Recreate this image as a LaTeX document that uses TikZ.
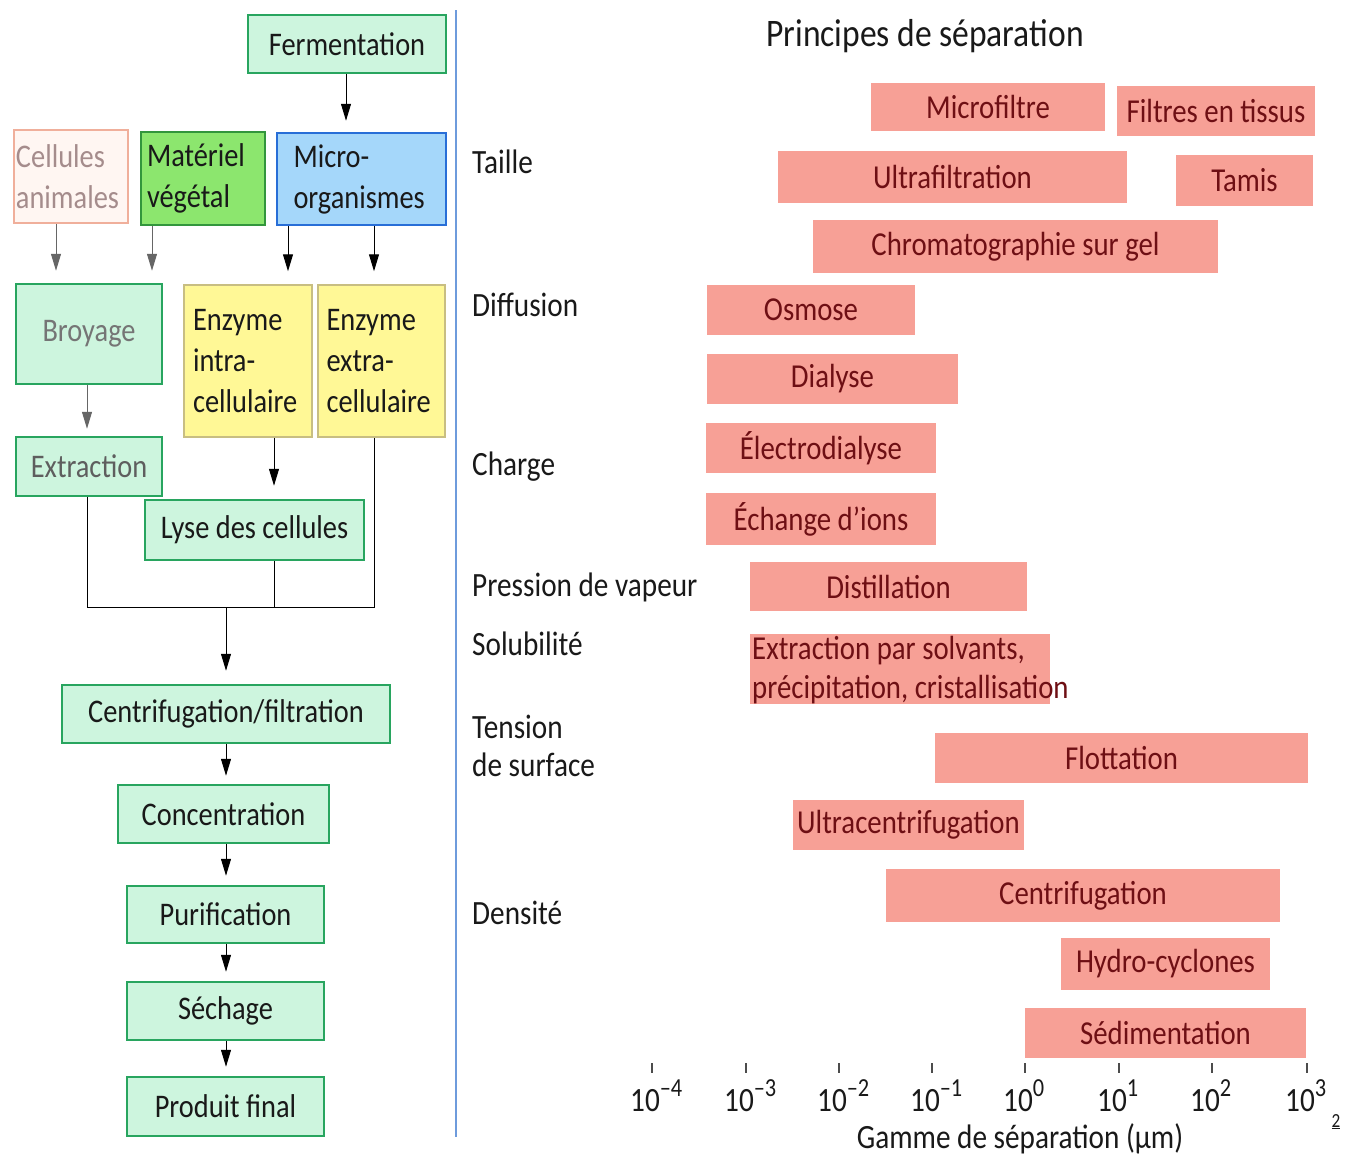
\documentclass[tikz,border=0pt]{standalone}
\usepackage{fontspec}
\setmainfont{Carlito}[FakeStretch=0.86]
\usetikzlibrary{arrows.meta}
\definecolor{gfill}{RGB}{205,245,222}
\definecolor{gdraw}{RGB}{40,165,95}
\definecolor{vfill}{RGB}{140,230,110}
\definecolor{vdraw}{RGB}{50,150,60}
\definecolor{bfill}{RGB}{165,215,250}
\definecolor{bdraw}{RGB}{40,110,215}
\definecolor{yfill}{RGB}{255,248,150}
\definecolor{ydraw}{RGB}{200,190,130}
\definecolor{pfill}{RGB}{255,246,242}
\definecolor{pdraw}{RGB}{240,175,155}
\definecolor{ptext}{RGB}{165,140,140}
\definecolor{salmon}{RGB}{247,160,150}
\definecolor{redtext}{RGB}{110,15,20}
\definecolor{txt}{RGB}{25,25,25}
\definecolor{sep}{RGB}{110,155,220}
\begin{document}
\begin{tikzpicture}[x=1pt,y=-1pt,
  base/.style={draw, line width=2.5pt, inner sep=0pt, text=txt,
    font=\fontsize{33}{41}\selectfont},
  gbox/.style={base, fill=gfill, draw=gdraw},
  vbox/.style={base, fill=vfill, draw=vdraw, align=left},
  bbox/.style={base, fill=bfill, draw=bdraw, align=left},
  ybox/.style={base, fill=yfill, draw=ydraw, line width=1.5pt, align=left},
  pbox/.style={base, fill=pfill, draw=pdraw, text=ptext, align=left},
  sbox/.style={fill=salmon, inner sep=0pt, text=redtext,
    font=\fontsize{33.5}{39}\selectfont},
  cat/.style={anchor=west, text=txt, inner sep=0pt, align=left,
    font=\fontsize{34}{38}\selectfont},
  arr/.style={-{Triangle[length=17pt,width=10pt]}, line width=1pt, black},
  garr/.style={arr, gray!80!black},
  ln/.style={line width=1pt, black},
  tick/.style={line width=1.2pt, gray!60!black},
  ax/.style={inner sep=0pt, text=txt, font=\fontsize{34}{38}\selectfont}
]
\useasboundingbox (0,0) rectangle (1348,1157);
\fill[white] (0,0) rectangle (1348,1157);

% ---------- left flow chart ----------
\node[gbox, minimum width=198, minimum height=58] (ferm) at (347,44) {Fermentation};
\node[pbox, minimum width=114, minimum height=93, text width=110] (cell) at (71,176.5) {Cellules\\animales};
\node[vbox, minimum width=124, minimum height=93, text width=112] (veg) at (203,178.5) {Matériel\\végétal};
\node[bbox, minimum width=169, minimum height=92, text width=136] (micro) at (361.5,179) {Micro-\\organismes};
\node[gbox, minimum width=146, minimum height=100, text=txt!60] (broy) at (89,334) {Broyage};
\node[ybox, minimum width=128, minimum height=152, text width=110] (eint) at (248,361) {Enzyme\\intra-\\cellulaire};
\node[ybox, minimum width=127, minimum height=152, text width=110] (eext) at (381.5,361) {Enzyme\\extra-\\cellulaire};
\node[gbox, minimum width=146, minimum height=59, text=txt!70] (extr) at (89,466.5) {Extraction};
\node[gbox, minimum width=219, minimum height=60] (lyse) at (254.5,530) {Lyse des cellules};
\node[gbox, minimum width=328, minimum height=58] (centr) at (226,714) {Centrifugation/filtration};
\node[gbox, minimum width=211, minimum height=58] (conc) at (223.5,814) {Concentration};
\node[gbox, minimum width=197, minimum height=57] (puri) at (225.5,914.5) {Purification};
\node[gbox, minimum width=197, minimum height=58] (sech) at (225.5,1011) {Séchage};
\node[gbox, minimum width=197, minimum height=59] (prod) at (225.5,1106.5) {Produit final};

\coordinate (x56) at (56,0);
\coordinate (x152) at (152,0);
\coordinate (x87) at (87,0);
\coordinate (x274) at (274,0);
\coordinate (x288) at (288,0);
\coordinate (x374) at (374,0);
\coordinate (x346) at (346,0);
\coordinate (x226) at (226,0);
\coordinate (jl) at (87,607);
\coordinate (jm) at (274,607);
\coordinate (jr) at (374,607);
\coordinate (join) at (226,607);

\draw[arr, shorten >=11pt] (ferm.south -| x346) -- (micro.north -| x346);
\draw[garr, shorten >=12pt] (cell.south -| x56) -- (broy.north -| x56);
\draw[garr, shorten >=12pt] (veg.south -| x152) -- (broy.north -| x152);
\draw[arr, shorten >=13pt] (micro.south -| x288) -- (eint.north -| x288);
\draw[arr, shorten >=13pt] (micro.south -| x374) -- (eext.north -| x374);
\draw[garr, shorten >=7pt] (broy.south -| x87) -- (extr.north -| x87);
\draw[arr, shorten >=13pt] (eint.south -| x274) -- (lyse.north -| x274);
\draw[ln] (extr.south -| x87) -- (jl) -- (jr) -- (eext.south -| x374);
\draw[ln] (lyse.south -| x274) -- (jm);
\draw[arr, shorten >=13pt] (join) -- (centr.north -| x226);
\draw[arr, shorten >=8pt] (centr.south -| x226) -- (conc.north -| x226);
\draw[arr, shorten >=9pt] (conc.south -| x226) -- (puri.north -| x226);
\draw[arr, shorten >=9pt] (puri.south -| x226) -- (sech.north -| x226);
\draw[arr, shorten >=9pt] (sech.south -| x226) -- (prod.north -| x226);

% separator
\draw[sep, line width=2pt] (456,10) -- (456,1137);

% ---------- right panel ----------
\node[ax, font=\fontsize{39}{44}\selectfont] (title) at (925,36) {Principes de séparation};

\node[cat] (taille) at (472,162) {Taille};
\node[cat] (diff) at (472,305) {Diffusion};
\node[cat] (charge) at (472,467) {Charge};
\node[cat] (press) at (472,587) {Pression de vapeur};
\node[cat] (solu) at (472,644) {Solubilité};
\node[cat] (tens) at (472,746) {Tension\\de surface};
\node[cat] (dens) at (472,913) {Densité};

\node[sbox, minimum width=234, minimum height=48] (mf) at (988,107) {Microfiltre};
\node[sbox, minimum width=198, minimum height=50] (ft) at (1216,111) {Filtres en tissus};
\node[sbox, minimum width=349, minimum height=52] (uf) at (952.5,177) {Ultrafiltration};
\node[sbox, minimum width=137, minimum height=51] (tam) at (1244.5,180.5) {Tamis};
\node[sbox, minimum width=405, minimum height=53] (chr) at (1015.5,246.5) {Chromatographie sur gel};
\node[sbox, minimum width=208, minimum height=50] (osm) at (811,310) {Osmose};
\node[sbox, minimum width=251, minimum height=50] (dia) at (832.5,379) {Dialyse};
\node[sbox, minimum width=230, minimum height=50] (eld) at (821,448) {Électrodialyse};
\node[sbox, minimum width=230, minimum height=52] (ech) at (821,519) {Échange d’ions};
\node[sbox, minimum width=277, minimum height=49] (dist) at (888.5,586.5) {Distillation};
\node[sbox, minimum width=300, minimum height=70] (ext) at (900,669) {};
\node[anchor=west, inner sep=0pt, text=redtext, align=left,
  font=\fontsize{33.5}{39}\selectfont] (extt) at (752,670) {Extraction par solvants,\\précipitation, cristallisation};
\node[sbox, minimum width=373, minimum height=50] (flot) at (1121.5,758) {Flottation};
\node[sbox, minimum width=231, minimum height=50] (ucf) at (908.5,825) {Ultracentrifugation};
\node[sbox, minimum width=394, minimum height=53] (cf) at (1083,895.5) {Centrifugation};
\node[sbox, minimum width=209, minimum height=52] (hc) at (1165.5,964) {Hydro-cyclones};
\node[sbox, minimum width=281, minimum height=50] (sed) at (1165.5,1033) {Sédimentation};

% axis
\foreach \xx/\ee [count=\i] in {652/–4, 746/–3, 839/–2, 932/–1, 1025/0, 1119/1, 1212/2, 1307/3}{
  \draw[tick] (\xx,1063) -- (\xx,1073);
  \node[ax, anchor=base west] (t\i) at (\xx-22,1111) {10\raisebox{0.42em}{\fontsize{26}{28}\selectfont\ee}};
}
\node[ax, anchor=base] (gamme) at (1020,1148) {Gamme de séparation (µm)};
\node[ax, anchor=base, font=\fontsize{20}{22}\selectfont] (pg) at (1336,1127) {\underline{2}};
\end{tikzpicture}
\end{document}
